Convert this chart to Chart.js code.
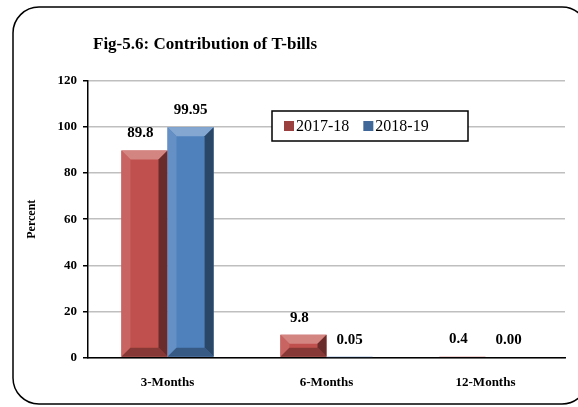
<!DOCTYPE html>
<html>
<head>
<meta charset="utf-8">
<script src="https://cdn.jsdelivr.net/npm/chart.js@4.4.0/dist/chart.umd.min.js"></script>
<style>
  html, body { margin: 0; padding: 0; background: #fff; overflow: hidden; }
  #wrap { width: 578px; height: 407px; position: relative; }
</style>
</head>
<body>
<div id="wrap"><canvas id="my-chart"></canvas></div>
<script>
// chart data
const categories = ['3-Months', '6-Months', '12-Months']
const series2017 = [89.8, 9.8, 0.4]
const series2018 = [99.95, 0.05, 0.00]
const labels2017 = ['89.8', '9.8', '0.4']
const labels2018 = ['99.95', '0.05', '0.00']
const yTicks = [0, 20, 40, 60, 80, 100, 120]

const FONT = '"Liberation Serif", "Times New Roman", serif'
const RED = '#C0504D'
const BLUE = '#4F81BD'

let ctx = document.getElementById('my-chart').getContext('2d')

// shade helper
function shade(hex, f) {
  let n = parseInt(hex.slice(1), 16)
  let r = (n >> 16) & 255, g = (n >> 8) & 255, b = n & 255
  let m = (c) => f < 0 ? Math.round(c * (1 + f)) : Math.round(c + (255 - c) * f)
  return 'rgb(' + m(r) + ',' + m(g) + ',' + m(b) + ')'
}

// title, bevels, value labels, legend, frame
const decor = {
  id: 'decor',
  beforeDraw(chart) {
    let c = chart.ctx
    c.save()
    c.fillStyle = '#fff'
    c.fillRect(0, 0, chart.width, chart.height)
    c.fillStyle = '#000'
    c.font = 'bold 17px ' + FONT
    c.textBaseline = 'middle'
    c.textAlign = 'left'
    c.fillText('Fig-5.6: Contribution of T-bills', 93, 45)
    c.restore()
  },
  afterDatasetsDraw(chart) {
    let c = chart.ctx
    c.save()
    chart.data.datasets.forEach((ds, di) => {
      let meta = chart.getDatasetMeta(di)
      meta.data.forEach((bar, i) => {
        let w = bar.width
        let x0 = bar.x - w / 2, x1 = bar.x + w / 2
        let top = bar.y, bot = bar.base
        let h = bot - top
        let bev = Math.min(9, h / 2, w / 4)
        if (h > 0.5) {
          // top bevel
          c.fillStyle = shade(ds.baseColor, 0.3)
          c.beginPath()
          c.moveTo(x0, top); c.lineTo(x1, top); c.lineTo(x1 - bev, top + bev); c.lineTo(x0 + bev, top + bev); c.closePath(); c.fill()
          // left bevel
          c.fillStyle = shade(ds.baseColor, 0.12)
          c.beginPath()
          c.moveTo(x0, top); c.lineTo(x0 + bev, top + bev); c.lineTo(x0 + bev, bot - bev); c.lineTo(x0, bot); c.closePath(); c.fill()
          // right bevel
          c.fillStyle = shade(ds.baseColor, -0.45)
          c.beginPath()
          c.moveTo(x1, top); c.lineTo(x1 - bev, top + bev); c.lineTo(x1 - bev, bot - bev); c.lineTo(x1, bot); c.closePath(); c.fill()
          // bottom bevel
          c.fillStyle = shade(ds.baseColor, -0.3)
          c.beginPath()
          c.moveTo(x0, bot); c.lineTo(x1, bot); c.lineTo(x1 - bev, bot - bev); c.lineTo(x0 + bev, bot - bev); c.closePath(); c.fill()
        }
        // value label
        c.fillStyle = '#000'
        c.font = 'bold 15px ' + FONT
        c.textAlign = 'center'
        c.textBaseline = 'middle'
        c.fillText(ds.valueLabels[i], bar.x - (di === 0 ? 4 : 0), top - 17)
      })
    })
    // legend box
    let lx = 272, ly = 111, lw = 196, lh = 30
    c.fillStyle = '#fff'
    c.fillRect(lx, ly, lw, lh)
    c.lineWidth = 1.5
    c.strokeStyle = '#000'
    c.strokeRect(lx, ly, lw, lh)
    c.font = '16px ' + FONT
    c.textAlign = 'left'
    c.textBaseline = 'middle'
    let x = lx + 12
    chart.data.datasets.forEach((ds) => {
      c.fillStyle = shade(ds.baseColor, -0.2)
      c.fillRect(x, ly + lh / 2 - 5, 10, 10)
      c.fillStyle = '#000'
      c.fillText(ds.label, x + 12, ly + lh / 2 + 1)
      x += 12 + c.measureText(ds.label).width + 14
    })
    c.restore()
  },
  afterDraw(chart) {
    let c = chart.ctx
    c.save()
    // stop grid and axis short of the right edge, as in the original
    c.fillStyle = '#fff'
    c.fillRect(567, 60, chart.width - 567, 320)
    // rounded outer frame
    c.beginPath()
    c.roundRect(13, 7, 575, 397, 26)
    c.lineWidth = 1.5
    c.strokeStyle = '#000'
    c.stroke()
    c.restore()
  }
}

const data = {
  labels: categories,
  datasets: [{
    label: '2017-18',
    data: series2017,
    backgroundColor: RED,
    baseColor: RED,
    valueLabels: labels2017,
  }, {
    label: '2018-19',
    data: series2018,
    backgroundColor: BLUE,
    baseColor: BLUE,
    valueLabels: labels2018,
  }]
}

const options = {
  responsive: true,
  maintainAspectRatio: false,
  animation: false,
  layout: { padding: { left: 13, right: 13, top: 81, bottom: 0 } },
  datasets: { bar: { categoryPercentage: 0.58, barPercentage: 1 } },
  plugins: {
    legend: { display: false },
    tooltip: { enabled: false },
  },
  scales: {
    x: {
      grid: { display: false, drawTicks: false },
      border: { color: '#000', width: 1.5 },
      ticks: { color: '#000', padding: 17, font: { family: FONT, size: 13, weight: 'bold' } },
    },
    y: {
      min: 0,
      max: 120,
      afterBuildTicks: (scale) => { scale.ticks = yTicks.map(v => ({ value: v })) },
      afterFit: (scale) => { scale.width = 75 },
      grid: { color: '#BFBFBF', lineWidth: 1.5, tickColor: '#000', tickLength: 5 },
      border: { color: '#000', width: 1.5 },
      ticks: { color: '#000', padding: 6, font: { family: FONT, size: 13, weight: 'bold' } },
      title: { display: true, text: 'Percent', color: '#000', padding: { top: 12, bottom: 14 }, font: { family: FONT, size: 12, weight: 'bold' } },
    }
  }
}

const config = {
  type: 'bar',
  data: data,
  options: options,
  plugins: [decor],
}

const myChart = new Chart(ctx, config)
</script>
</body>
</html>
